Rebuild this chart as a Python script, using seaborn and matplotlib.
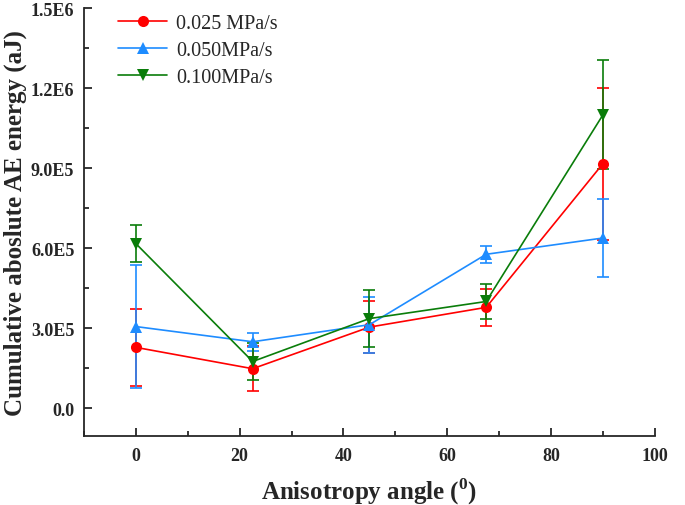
import matplotlib
matplotlib.use("Agg")
import matplotlib.pyplot as plt
import seaborn as sns
import pandas as pd
import numpy as np
from matplotlib.ticker import FixedLocator, MultipleLocator

angles = [0, 22.5, 45, 67.5, 90]
series_names = ["0.025 MPa/s", "0.050MPa/s", "0.100MPa/s"]
energy_025 = [2.28e5, 1.48e5, 3.04e5, 3.78e5, 9.17e5]
energy_050 = [3.06e5, 2.49e5, 3.13e5, 5.77e5, 6.38e5]
energy_100 = [6.17e5, 1.75e5, 3.36e5, 4.00e5, 1.10e6]
err_025 = [1.45e5, 0.85e5, 0.97e5, 0.69e5, 2.85e5]
err_050 = [2.32e5, 0.33e5, 1.05e5, 0.31e5, 1.48e5]
err_100 = [0.69e5, 0.70e5, 1.06e5, 0.66e5, 2.05e5]
y_ticks = [0, 3e5, 6e5, 9e5, 1.2e6, 1.5e6]
y_tick_labels = ["0.0", "3.0E5", "6.0E5", "9.0E5", "1.2E6", "1.5E6"]

colors = ["#FF0000", "#1E8CFF", "#0A7D0A"]
markers = ["o", "^", "v"]

sns.set_style("ticks")
plt.rcParams["font.family"] = ["Liberation Serif", "DejaVu Serif"]
plt.rcParams["mathtext.fontset"] = "custom"
plt.rcParams["mathtext.rm"] = "Liberation Serif"
plt.rcParams["mathtext.bf"] = "Liberation Serif:bold"

df = pd.DataFrame({
    "angle": angles * 3,
    "energy": energy_025 + energy_050 + energy_100,
    "err": err_025 + err_050 + err_100,
    "series": [s for s in series_names for _ in angles],
})

fig = plt.figure(figsize=(6.85, 5.06), dpi=100)
ax = fig.add_axes([0.1226, 0.136, 0.8334, 0.846])

for name, c in zip(series_names, colors):
    sub = df[df["series"] == name]
    ax.errorbar(sub["angle"], sub["energy"], yerr=sub["err"], fmt="none",
                ecolor=c, elinewidth=1.2, capsize=4, capthick=1.2, zorder=2)

sns.lineplot(data=df, x="angle", y="energy", hue="series", style="series",
             palette=colors, markers=markers, dashes=False, markersize=8,
             markeredgewidth=0, linewidth=1.2, ax=ax, zorder=3)

ax.set_xlim(-10, 100)
ax.set_ylim(-1.05e5, 1.5e6)
ax.xaxis.set_major_locator(MultipleLocator(20))
ax.xaxis.set_minor_locator(MultipleLocator(10))
ax.yaxis.set_major_locator(FixedLocator(y_ticks))
ax.set_yticklabels(y_tick_labels)
ax.yaxis.set_minor_locator(MultipleLocator(1.5e5))
ax.tick_params(which="major", direction="in", length=6, width=1.3, labelsize=13)
ax.tick_params(axis="y", which="major", pad=7)
ax.tick_params(axis="x", which="major", pad=8)
ax.tick_params(which="minor", direction="in", length=3.5, width=1.3)
for lab in ax.get_xticklabels() + ax.get_yticklabels():
    lab.set_fontweight("bold")
for s in ["top", "right"]:
    ax.spines[s].set_visible(False)
for s in ["left", "bottom"]:
    ax.spines[s].set_linewidth(1.3)

ax.set_xlabel("Anisotropy angle (${}^{\\mathbf{0}}$)", fontsize=18, fontweight="bold", labelpad=8)
ax.set_ylabel("Cumulative aboslute AE energy (aJ)", fontsize=18, fontweight="bold")
ax.yaxis.set_label_coords(-0.1, 0.5)

leg = ax.legend(loc="upper left", bbox_to_anchor=(0.032, 1.025), frameon=False,
                fontsize=14.5, handlelength=2.4, labelspacing=0.4, borderpad=0.3,
                handletextpad=0.45)
leg.set_title(None)

fig.savefig("out.png", dpi=100)
